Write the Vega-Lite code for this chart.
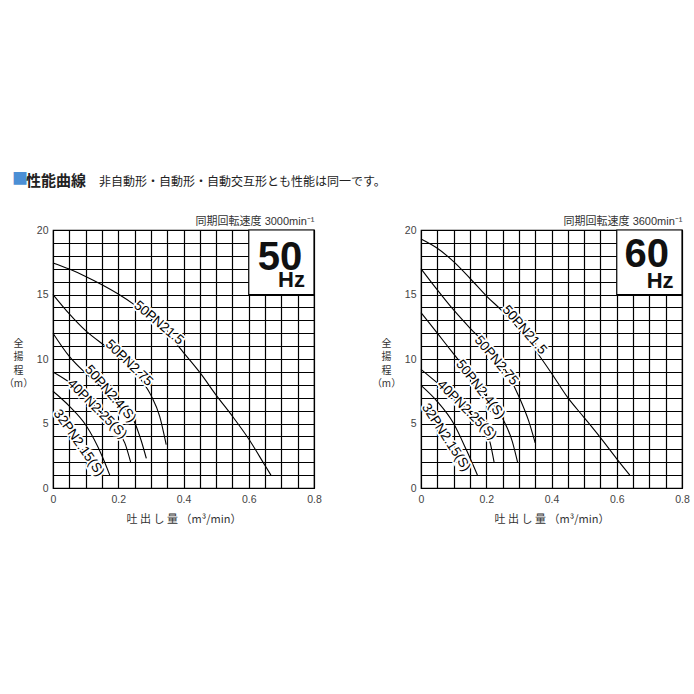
{
  "$schema": "https://vega.github.io/schema/vega-lite/v6.json",
  "background": "white",
  "padding": {"left": 2, "top": 171, "right": 0, "bottom": 0},
  "bounds": "flush",
  "spacing": 107,
  "title": {
    "text": "■",
    "color": "#4b8fd5",
    "fontSize": 16,
    "font": "Noto Sans CJK JP",
    "anchor": "start",
    "frame": "group",
    "dx": -41,
    "offset": -14
  },
  "datasets": {
    "c50": [
      {"curve": "50PN21.5", "q": 0, "h": 17.45}, {"curve": "50PN21.5", "q": 0.05, "h": 16.97}, {"curve": "50PN21.5", "q": 0.1, "h": 16.4},
      {"curve": "50PN21.5", "q": 0.15, "h": 15.76}, {"curve": "50PN21.5", "q": 0.2, "h": 15.04}, {"curve": "50PN21.5", "q": 0.25, "h": 14.2},
      {"curve": "50PN21.5", "q": 0.3, "h": 13.2}, {"curve": "50PN21.5", "q": 0.35, "h": 12.0}, {"curve": "50PN21.5", "q": 0.4, "h": 10.5},
      {"curve": "50PN21.5", "q": 0.45, "h": 8.96}, {"curve": "50PN21.5", "q": 0.5, "h": 7.2}, {"curve": "50PN21.5", "q": 0.55, "h": 5.56},
      {"curve": "50PN21.5", "q": 0.6, "h": 3.8}, {"curve": "50PN21.5", "q": 0.65, "h": 1.74}, {"curve": "50PN21.5", "q": 0.668, "h": 1.0},
      {"curve": "50PN2.75", "q": 0, "h": 15.0}, {"curve": "50PN2.75", "q": 0.05, "h": 13.5}, {"curve": "50PN2.75", "q": 0.1, "h": 12.2},
      {"curve": "50PN2.75", "q": 0.15, "h": 11.2}, {"curve": "50PN2.75", "q": 0.2, "h": 10.3}, {"curve": "50PN2.75", "q": 0.25, "h": 9.0},
      {"curve": "50PN2.75", "q": 0.3, "h": 7.2}, {"curve": "50PN2.75", "q": 0.327, "h": 5.55}, {"curve": "50PN2.75", "q": 0.347, "h": 3.36},
      {"curve": "50PN2.4(S)", "q": 0, "h": 12.0}, {"curve": "50PN2.4(S)", "q": 0.05, "h": 10.2}, {"curve": "50PN2.4(S)", "q": 0.1, "h": 8.9},
      {"curve": "50PN2.4(S)", "q": 0.15, "h": 7.8}, {"curve": "50PN2.4(S)", "q": 0.2, "h": 6.6}, {"curve": "50PN2.4(S)", "q": 0.25, "h": 5.1},
      {"curve": "50PN2.4(S)", "q": 0.27, "h": 3.7}, {"curve": "50PN2.4(S)", "q": 0.286, "h": 2.3},
      {"curve": "40PN2.25(S)", "q": 0, "h": 9.0}, {"curve": "40PN2.25(S)", "q": 0.05, "h": 8.2}, {"curve": "40PN2.25(S)", "q": 0.1, "h": 7.1},
      {"curve": "40PN2.25(S)", "q": 0.15, "h": 5.75}, {"curve": "40PN2.25(S)", "q": 0.2, "h": 4.3}, {"curve": "40PN2.25(S)", "q": 0.22, "h": 3.5},
      {"curve": "40PN2.25(S)", "q": 0.238, "h": 2.0},
      {"curve": "32PN2.15(S)", "q": 0, "h": 7.5}, {"curve": "32PN2.15(S)", "q": 0.05, "h": 6.35}, {"curve": "32PN2.15(S)", "q": 0.1, "h": 4.9},
      {"curve": "32PN2.15(S)", "q": 0.15, "h": 2.5}, {"curve": "32PN2.15(S)", "q": 0.174, "h": 1.0}
    ],
    "c60": [
      {"curve": "50PN21.5", "q": 0, "h": 19.3}, {"curve": "50PN21.5", "q": 0.05, "h": 18.58}, {"curve": "50PN21.5", "q": 0.1, "h": 17.55},
      {"curve": "50PN21.5", "q": 0.15, "h": 16.26}, {"curve": "50PN21.5", "q": 0.2, "h": 14.9}, {"curve": "50PN21.5", "q": 0.25, "h": 13.7},
      {"curve": "50PN21.5", "q": 0.3, "h": 12.3}, {"curve": "50PN21.5", "q": 0.35, "h": 10.7}, {"curve": "50PN21.5", "q": 0.4, "h": 8.9},
      {"curve": "50PN21.5", "q": 0.45, "h": 7.0}, {"curve": "50PN21.5", "q": 0.5, "h": 5.46}, {"curve": "50PN21.5", "q": 0.55, "h": 3.9},
      {"curve": "50PN21.5", "q": 0.6, "h": 2.26}, {"curve": "50PN21.5", "q": 0.64, "h": 1.0},
      {"curve": "50PN2.75", "q": 0, "h": 17.0}, {"curve": "50PN2.75", "q": 0.05, "h": 15.36}, {"curve": "50PN2.75", "q": 0.1, "h": 13.8},
      {"curve": "50PN2.75", "q": 0.15, "h": 12.4}, {"curve": "50PN2.75", "q": 0.2, "h": 11.1}, {"curve": "50PN2.75", "q": 0.25, "h": 9.5},
      {"curve": "50PN2.75", "q": 0.3, "h": 7.1}, {"curve": "50PN2.75", "q": 0.33, "h": 5.2}, {"curve": "50PN2.75", "q": 0.35, "h": 3.5},
      {"curve": "50PN2.4(S)", "q": 0, "h": 13.6}, {"curve": "50PN2.4(S)", "q": 0.05, "h": 12.0}, {"curve": "50PN2.4(S)", "q": 0.1, "h": 10.4},
      {"curve": "50PN2.4(S)", "q": 0.15, "h": 8.8}, {"curve": "50PN2.4(S)", "q": 0.2, "h": 7.1}, {"curve": "50PN2.4(S)", "q": 0.25, "h": 5.4},
      {"curve": "50PN2.4(S)", "q": 0.28, "h": 3.6}, {"curve": "50PN2.4(S)", "q": 0.296, "h": 2.0},
      {"curve": "40PN2.25(S)", "q": 0, "h": 9.2}, {"curve": "40PN2.25(S)", "q": 0.05, "h": 8.15}, {"curve": "40PN2.25(S)", "q": 0.1, "h": 7.1},
      {"curve": "40PN2.25(S)", "q": 0.15, "h": 5.8}, {"curve": "40PN2.25(S)", "q": 0.2, "h": 4.3}, {"curve": "40PN2.25(S)", "q": 0.212, "h": 3.5},
      {"curve": "40PN2.25(S)", "q": 0.224, "h": 2.0},
      {"curve": "32PN2.15(S)", "q": 0, "h": 7.95}, {"curve": "32PN2.15(S)", "q": 0.05, "h": 6.7}, {"curve": "32PN2.15(S)", "q": 0.1, "h": 5.0},
      {"curve": "32PN2.15(S)", "q": 0.14, "h": 2.9}, {"curve": "32PN2.15(S)", "q": 0.173, "h": 1.0}
    ],
    "l50": [
      {"curve": "50PN21.5", "q": 0.324, "h": 12.8},
      {"curve": "50PN2.75", "q": 0.233, "h": 9.69},
      {"curve": "50PN2.4(S)", "q": 0.176, "h": 7.3},
      {"curve": "40PN2.25(S)", "q": 0.135, "h": 6.13},
      {"curve": "32PN2.15(S)", "q": 0.079, "h": 3.49}
    ],
    "l60": [
      {"curve": "50PN21.5", "q": 0.317, "h": 12.25},
      {"curve": "50PN2.75", "q": 0.231, "h": 9.88},
      {"curve": "50PN2.4(S)", "q": 0.182, "h": 7.64},
      {"curve": "40PN2.25(S)", "q": 0.141, "h": 6.04},
      {"curve": "32PN2.15(S)", "q": 0.077, "h": 3.92}
    ],
    "box": [{"q": 0.6, "q2": 0.8, "h": 15, "h2": 20}]
  },
  "hconcat": [
    {
      "width": 261,
      "height": 258,
      "title": {
        "text": "性能曲線",
        "anchor": "start",
        "frame": "group",
        "dx": -27,
        "offset": 26,
        "fontSize": 15,
        "fontWeight": "bold",
        "color": "#222222",
        "font": "Noto Sans CJK JP"
      },
      "resolve": {"axis": {"x": "independent"}},
      "layer": [
        {
          "data": {"name": "box"},
          "mark": {"type": "rect", "fill": "white", "stroke": "black", "strokeWidth": 1.2},
          "encoding": {
            "x": {"field": "q", "type": "quantitative", "scale": {"domain": [0, 0.8], "nice": false},
                  "axis": {"orient": "top", "title": "同期回転速度 3000min⁻¹"}},
            "x2": {"field": "q2"},
            "y": {"field": "h", "type": "quantitative", "scale": {"domain": [0, 20], "nice": false},
                  "axis": {"title": ["全", "揚", "程", "（m）"]}},
            "y2": {"field": "h2"}
          }
        },
        {
          "data": {"name": "c50"},
          "mark": {"type": "line", "color": "black", "strokeWidth": 1.1, "interpolate": "monotone"},
          "encoding": {
            "x": {"field": "q", "type": "quantitative",
                  "axis": {"title": "吐 出 し 量 （m³/min）", "tickCount": 16, "grid": true, "gridColor": "black", "gridWidth": 1.2, "gridOpacity": 1}},
            "y": {"field": "h", "type": "quantitative"},
            "detail": {"field": "curve"}
          }
        },
        {
          "data": {"name": "l50"}, "transform": [{"filter": "datum.curve === '50PN21.5'"}],
          "encoding": {"x": {"field": "q", "type": "quantitative", "axis": null}, "y": {"field": "h", "type": "quantitative"}, "text": {"field": "curve"}, "angle": {"value": 40}},
          "layer": [
            {"mark": {"type": "text", "fontSize": 13.5, "font": "Liberation Sans", "baseline": "middle", "fill": "white", "stroke": "white", "strokeWidth": 3.5}},
            {"mark": {"type": "text", "fontSize": 13.5, "font": "Liberation Sans", "baseline": "middle", "fill": "black"}}
          ]
        },
        {
          "data": {"name": "l50"}, "transform": [{"filter": "datum.curve === '50PN2.75'"}],
          "encoding": {"x": {"field": "q", "type": "quantitative", "axis": null}, "y": {"field": "h", "type": "quantitative"}, "text": {"field": "curve"}, "angle": {"value": 44}},
          "layer": [
            {"mark": {"type": "text", "fontSize": 13.5, "font": "Liberation Sans", "baseline": "middle", "fill": "white", "stroke": "white", "strokeWidth": 3.5}},
            {"mark": {"type": "text", "fontSize": 13.5, "font": "Liberation Sans", "baseline": "middle", "fill": "black"}}
          ]
        },
        {
          "data": {"name": "l50"}, "transform": [{"filter": "datum.curve === '50PN2.4(S)'"}],
          "encoding": {"x": {"field": "q", "type": "quantitative", "axis": null}, "y": {"field": "h", "type": "quantitative"}, "text": {"field": "curve"}, "angle": {"value": 49}},
          "layer": [
            {"mark": {"type": "text", "fontSize": 13.5, "font": "Liberation Sans", "baseline": "middle", "fill": "white", "stroke": "white", "strokeWidth": 3.5}},
            {"mark": {"type": "text", "fontSize": 13.5, "font": "Liberation Sans", "baseline": "middle", "fill": "black"}}
          ]
        },
        {
          "data": {"name": "l50"}, "transform": [{"filter": "datum.curve === '40PN2.25(S)'"}],
          "encoding": {"x": {"field": "q", "type": "quantitative", "axis": null}, "y": {"field": "h", "type": "quantitative"}, "text": {"field": "curve"}, "angle": {"value": 45}},
          "layer": [
            {"mark": {"type": "text", "fontSize": 13.5, "font": "Liberation Sans", "baseline": "middle", "fill": "white", "stroke": "white", "strokeWidth": 3.5}},
            {"mark": {"type": "text", "fontSize": 13.5, "font": "Liberation Sans", "baseline": "middle", "fill": "black"}}
          ]
        },
        {
          "data": {"name": "l50"}, "transform": [{"filter": "datum.curve === '32PN2.15(S)'"}],
          "encoding": {"x": {"field": "q", "type": "quantitative", "axis": null}, "y": {"field": "h", "type": "quantitative"}, "text": {"field": "curve"}, "angle": {"value": 55}},
          "layer": [
            {"mark": {"type": "text", "fontSize": 13.5, "font": "Liberation Sans", "baseline": "middle", "fill": "white", "stroke": "white", "strokeWidth": 3.5}},
            {"mark": {"type": "text", "fontSize": 13.5, "font": "Liberation Sans", "baseline": "middle", "fill": "black"}}
          ]
        },
        {
          "data": {"values": [{"t": "50", "q": 0.696, "h": 16.9}]},
          "mark": {"type": "text", "fontSize": 40, "fontWeight": "bold", "font": "Liberation Sans", "baseline": "alphabetic", "fill": "#111111"},
          "encoding": {"x": {"field": "q", "type": "quantitative", "axis": null}, "y": {"field": "h", "type": "quantitative"}, "text": {"field": "t"}}
        },
        {
          "data": {"values": [{"t": "Hz", "q": 0.731, "h": 15.55}]},
          "mark": {"type": "text", "fontSize": 22, "fontWeight": "bold", "font": "Liberation Sans", "baseline": "alphabetic", "fill": "#111111"},
          "encoding": {"x": {"field": "q", "type": "quantitative", "axis": null}, "y": {"field": "h", "type": "quantitative"}, "text": {"field": "t"}}
        }
      ]
    },
    {
      "width": 261,
      "height": 258,
      "title": {
        "text": "非自動形・自動形・自動交互形とも性能は同一です。",
        "anchor": "start",
        "frame": "group",
        "dx": -322,
        "offset": 26,
        "fontSize": 12,
        "fontWeight": "normal",
        "color": "#222222",
        "font": "Noto Sans CJK JP"
      },
      "resolve": {"axis": {"x": "independent"}},
      "layer": [
        {
          "data": {"name": "box"},
          "mark": {"type": "rect", "fill": "white", "stroke": "black", "strokeWidth": 1.2},
          "encoding": {
            "x": {"field": "q", "type": "quantitative", "scale": {"domain": [0, 0.8], "nice": false},
                  "axis": {"orient": "top", "title": "同期回転速度 3600min⁻¹"}},
            "x2": {"field": "q2"},
            "y": {"field": "h", "type": "quantitative", "scale": {"domain": [0, 20], "nice": false},
                  "axis": {"title": ["全", "揚", "程", "（m）"]}},
            "y2": {"field": "h2"}
          }
        },
        {
          "data": {"name": "c60"},
          "mark": {"type": "line", "color": "black", "strokeWidth": 1.1, "interpolate": "monotone"},
          "encoding": {
            "x": {"field": "q", "type": "quantitative",
                  "axis": {"title": "吐 出 し 量 （m³/min）", "tickCount": 16, "grid": true, "gridColor": "black", "gridWidth": 1.2, "gridOpacity": 1}},
            "y": {"field": "h", "type": "quantitative"},
            "detail": {"field": "curve"}
          }
        },
        {
          "data": {"name": "l60"}, "transform": [{"filter": "datum.curve === '50PN21.5'"}],
          "encoding": {"x": {"field": "q", "type": "quantitative", "axis": null}, "y": {"field": "h", "type": "quantitative"}, "text": {"field": "curve"}, "angle": {"value": 49}},
          "layer": [
            {"mark": {"type": "text", "fontSize": 13.5, "font": "Liberation Sans", "baseline": "middle", "fill": "white", "stroke": "white", "strokeWidth": 3.5}},
            {"mark": {"type": "text", "fontSize": 13.5, "font": "Liberation Sans", "baseline": "middle", "fill": "black"}}
          ]
        },
        {
          "data": {"name": "l60"}, "transform": [{"filter": "datum.curve === '50PN2.75'"}],
          "encoding": {"x": {"field": "q", "type": "quantitative", "axis": null}, "y": {"field": "h", "type": "quantitative"}, "text": {"field": "curve"}, "angle": {"value": 50}},
          "layer": [
            {"mark": {"type": "text", "fontSize": 13.5, "font": "Liberation Sans", "baseline": "middle", "fill": "white", "stroke": "white", "strokeWidth": 3.5}},
            {"mark": {"type": "text", "fontSize": 13.5, "font": "Liberation Sans", "baseline": "middle", "fill": "black"}}
          ]
        },
        {
          "data": {"name": "l60"}, "transform": [{"filter": "datum.curve === '50PN2.4(S)'"}],
          "encoding": {"x": {"field": "q", "type": "quantitative", "axis": null}, "y": {"field": "h", "type": "quantitative"}, "text": {"field": "curve"}, "angle": {"value": 52}},
          "layer": [
            {"mark": {"type": "text", "fontSize": 13.5, "font": "Liberation Sans", "baseline": "middle", "fill": "white", "stroke": "white", "strokeWidth": 3.5}},
            {"mark": {"type": "text", "fontSize": 13.5, "font": "Liberation Sans", "baseline": "middle", "fill": "black"}}
          ]
        },
        {
          "data": {"name": "l60"}, "transform": [{"filter": "datum.curve === '40PN2.25(S)'"}],
          "encoding": {"x": {"field": "q", "type": "quantitative", "axis": null}, "y": {"field": "h", "type": "quantitative"}, "text": {"field": "curve"}, "angle": {"value": 45}},
          "layer": [
            {"mark": {"type": "text", "fontSize": 13.5, "font": "Liberation Sans", "baseline": "middle", "fill": "white", "stroke": "white", "strokeWidth": 3.5}},
            {"mark": {"type": "text", "fontSize": 13.5, "font": "Liberation Sans", "baseline": "middle", "fill": "black"}}
          ]
        },
        {
          "data": {"name": "l60"}, "transform": [{"filter": "datum.curve === '32PN2.15(S)'"}],
          "encoding": {"x": {"field": "q", "type": "quantitative", "axis": null}, "y": {"field": "h", "type": "quantitative"}, "text": {"field": "curve"}, "angle": {"value": 57}},
          "layer": [
            {"mark": {"type": "text", "fontSize": 13.5, "font": "Liberation Sans", "baseline": "middle", "fill": "white", "stroke": "white", "strokeWidth": 3.5}},
            {"mark": {"type": "text", "fontSize": 13.5, "font": "Liberation Sans", "baseline": "middle", "fill": "black"}}
          ]
        },
        {
          "data": {"values": [{"t": "60", "q": 0.692, "h": 17.1}]},
          "mark": {"type": "text", "fontSize": 40, "fontWeight": "bold", "font": "Liberation Sans", "baseline": "alphabetic", "fill": "#111111"},
          "encoding": {"x": {"field": "q", "type": "quantitative", "axis": null}, "y": {"field": "h", "type": "quantitative"}, "text": {"field": "t"}}
        },
        {
          "data": {"values": [{"t": "Hz", "q": 0.733, "h": 15.5}]},
          "mark": {"type": "text", "fontSize": 22, "fontWeight": "bold", "font": "Liberation Sans", "baseline": "alphabetic", "fill": "#111111"},
          "encoding": {"x": {"field": "q", "type": "quantitative", "axis": null}, "y": {"field": "h", "type": "quantitative"}, "text": {"field": "t"}}
        }
      ]
    }
  ],
  "config": {
    "font": "Liberation Sans, Noto Sans CJK JP",
    "view": {"stroke": "black", "strokeWidth": 1.2},
    "axisBottom": {
      "tickCount": 16,
      "labelExpr": "round(datum.value*20) % 4 === 0 ? format(datum.value, '.1~f') : ''",
      "grid": true, "gridColor": "black", "gridWidth": 1.2, "gridOpacity": 1,
      "ticks": false, "domain": false, "labelOverlap": false, "labelFlush": false,
      "labelFontSize": 10.5, "labelColor": "#444444", "labelPadding": 6,
      "titleFontSize": 11, "titleFontWeight": "normal", "titleColor": "#333333", "titlePadding": 9,
      "titleFont": "Noto Sans CJK JP"
    },
    "axisLeft": {
      "tickCount": 20,
      "labelExpr": "datum.value % 5 === 0 ? datum.label : ''",
      "grid": true, "gridColor": "black", "gridWidth": 1.2, "gridOpacity": 1,
      "ticks": false, "domain": false, "labelOverlap": false, "labelFlush": false,
      "labelFontSize": 10.5, "labelColor": "#444444", "labelPadding": 5,
      "titleAngle": 0, "titleX": -35, "titleY": 108, "titleAlign": "center", "titleBaseline": "top",
      "titleFontSize": 10, "titleFontWeight": "normal", "titleLineHeight": 13.5, "titleColor": "#333333",
      "titleFont": "Noto Sans CJK JP"
    },
    "axisTop": {
      "labels": false, "ticks": false, "domain": false, "grid": false,
      "titleAnchor": "end", "titleFontSize": 11, "titleFontWeight": "normal", "titleColor": "#333333",
      "titlePadding": 4, "titleFont": "Liberation Sans, Noto Sans CJK JP"
    }
  }
}
